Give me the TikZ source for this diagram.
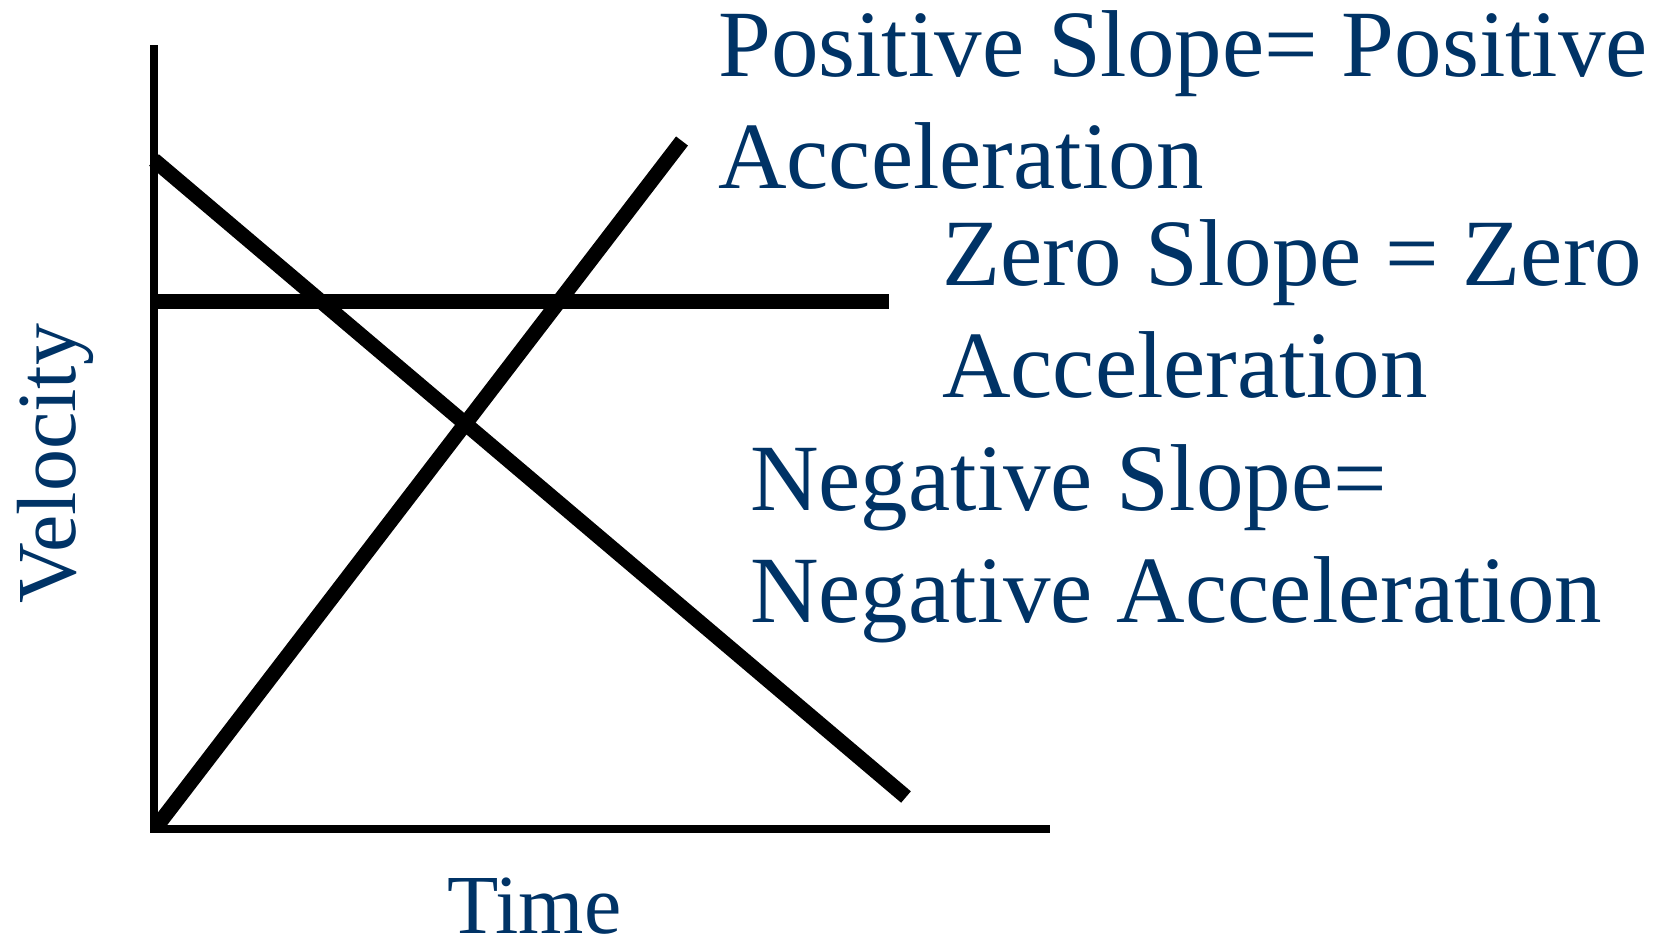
\documentclass[tikz,border=0pt]{standalone}
\usepackage{fontspec}
\setmainfont{Liberation Serif}
\usetikzlibrary{positioning}
\definecolor{labelblue}{RGB}{0,51,102}

\begin{document}
\begin{tikzpicture}[x=1pt, y=-1pt,
    axis/.style={line width=8pt},
    graphline/.style={line width=15pt},
    lbl/.style={text=labelblue, inner sep=0pt, align=left, font=\fontsize{95}{112}\selectfont},
    axislbl/.style={text=labelblue, inner sep=0pt, font=\fontsize{84}{96}\selectfont}]
    \useasboundingbox (0,0) rectangle (1674,940);
    \coordinate (o) at (154,829);
    \coordinate (ytop) at (154,45);
    \coordinate (xend) at (1050,829);
    \draw[axis] (ytop) -- (o) -- (xend);
    % the three velocity lines
    \coordinate (pstart) at (157,826);
    \coordinate (pend) at (682,141);
    \coordinate (nstart) at (154,160);
    \coordinate (nend) at (906,797);
    \coordinate (zstart) at (154,301);
    \coordinate (zend) at (889,301);
    \draw[graphline] (pstart) -- (pend);
    \draw[graphline] (nstart) -- (nend);
    \draw[graphline] (zstart) -- (zend);
    % labels (base = last line)
    \node[lbl, anchor=base west] (poslbl) at (718,188) {Positive Slope= Positive\\Acceleration};
    \node[lbl, anchor=base west] (zerolbl) at (942,397) {Zero Slope = Zero\\Acceleration};
    \node[lbl, anchor=base west] (neglbl) at (750,622) {Negative Slope=\\Negative Acceleration};
    \node[axislbl, anchor=base west, rotate=90] (vel) at (75,604) {Velocity};
    \node[axislbl, anchor=base west] (time) at (447,933) {Time};
\end{tikzpicture}
\end{document}
